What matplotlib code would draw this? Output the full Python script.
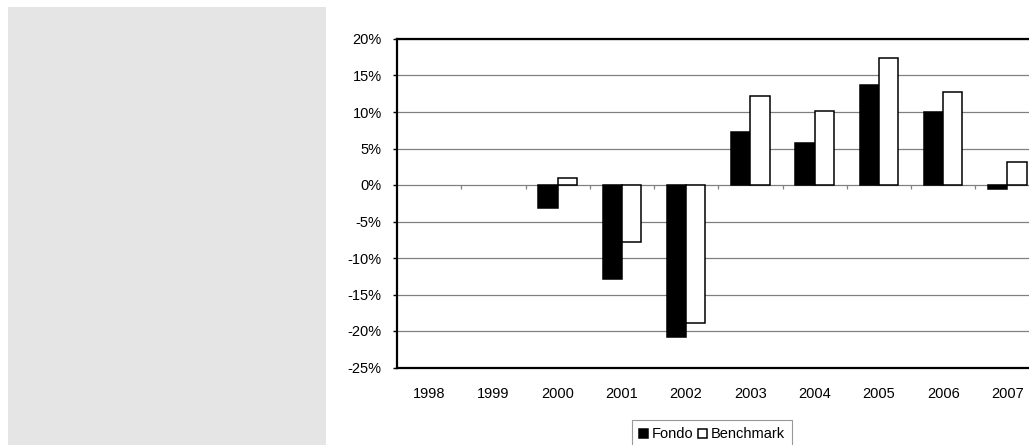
import numpy as np
import matplotlib
matplotlib.use('Agg')
from matplotlib import pyplot as plt
from matplotlib.patches import Rectangle
from matplotlib.ticker import FuncFormatter

plt.rcParams['font.family'] = ['Liberation Sans', 'DejaVu Sans']

# rendimenti annui (%)
anni = ['1998', '1999', '2000', '2001', '2002', '2003', '2004', '2005', '2006', '2007']
fondo = [np.nan, np.nan, -3.2, -12.9, -20.8, 7.2, 5.8, 13.7, 10.0, -0.6]
benchmark = [np.nan, np.nan, 0.9, -7.8, -18.9, 12.2, 10.2, 17.4, 12.8, 3.1]

fig = plt.figure(figsize=(10.29, 4.45), dpi=100)

# pannello grigio a sinistra
fig.patches.append(Rectangle((8 / 1029, 0), 318 / 1029, 438 / 445,
                             transform=fig.transFigure, facecolor='#e5e5e5',
                             edgecolor='none', zorder=0))

ax = fig.add_axes([397 / 1029, 77.5 / 445, 642.5 / 1029, 328.5 / 445])
x = np.arange(len(anni))
w = 0.3
ax.bar(x - w / 2, fondo, w, color='black', edgecolor='black', linewidth=1.1,
       label='Fondo', zorder=3)
ax.bar(x + w / 2, benchmark, w, color='white', edgecolor='black', linewidth=1.1,
       label='Benchmark', zorder=3)

ax.set_xlim(-0.5, len(anni) - 0.5)
ax.set_ylim(-25, 20)
ax.set_yticks(np.arange(-25, 21, 5))
ax.yaxis.set_major_formatter(FuncFormatter(lambda v, p: '%d%%' % v))
ax.yaxis.grid(True, color='#808080', linewidth=0.9, zorder=1)
ax.set_axisbelow(True)

# tacche di categoria sulla linea dello zero
ax.vlines(np.arange(0.5, len(anni) - 0.5), -0.6, 0, color='#808080', linewidth=0.9, zorder=2)

ax.set_xticks(x)
ax.set_xticklabels(anni)
ax.tick_params(axis='x', length=0, pad=14, labelsize=10.5)
ax.tick_params(axis='y', length=3, width=1, pad=8, labelsize=10.5, direction='out')

for s in ['left', 'top', 'bottom']:
    ax.spines[s].set_linewidth(1.6)
    ax.spines[s].set_color('black')
ax.spines['right'].set_visible(False)

leg = fig.legend(loc='upper left', bbox_to_anchor=(632 / 1029, 1 - 420 / 445),
                 ncol=2, fontsize=10.5, frameon=True, fancybox=False,
                 handlelength=0.6, handleheight=0.6, handletextpad=0.25,
                 columnspacing=0.35, borderpad=0.5, borderaxespad=0)
leg.get_frame().set_edgecolor('#808080')
leg.get_frame().set_linewidth(0.8)

plt.savefig('out.png', dpi=100)
